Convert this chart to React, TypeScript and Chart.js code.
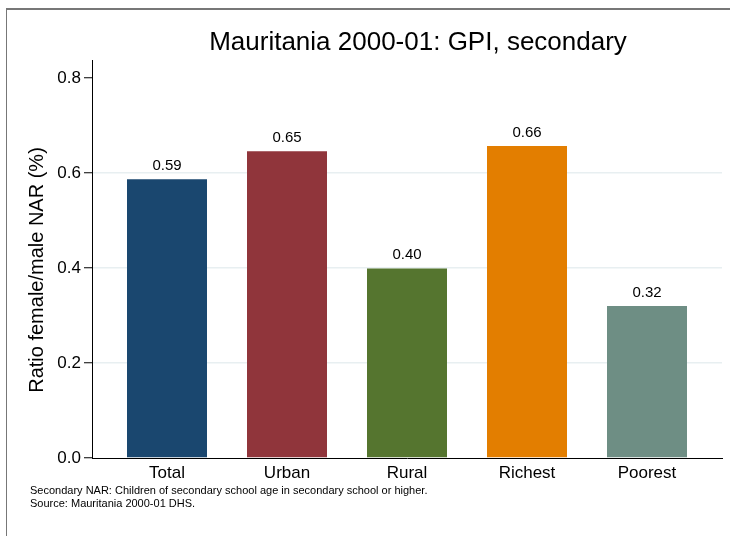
import React, { useEffect, useRef } from "react";
import { Chart, registerables } from "chart.js";

Chart.register(...registerables);

const titleText = "Mauritania 2000-01: GPI, secondary";
const yAxisTitle = "Ratio female/male NAR (%)";
const noteLines = [
  "Secondary NAR: Children of secondary school age in secondary school or higher.",
  "Source: Mauritania 2000-01 DHS.",
];
const categories = ["Total", "Urban", "Rural", "Richest", "Poorest"];
const values = [0.587, 0.646, 0.399, 0.657, 0.32];
const barColors = ["#1a476f", "#90353b", "#55752f", "#e37e00", "#6e8e84"];
const yTicks = [0, 0.2, 0.4, 0.6, 0.8];

const FONT = "'Liberation Sans', Arial, Helvetica, sans-serif";

const textPlugin = {
  id: "textPlugin",
  afterDatasetsDraw(chart: any) {
    const ctx = chart.ctx;
    ctx.save();
    ctx.fillStyle = "#000";
    // value labels
    const meta = chart.getDatasetMeta(0);
    ctx.font = `15px ${FONT}`;
    ctx.textAlign = "center";
    ctx.textBaseline = "alphabetic";
    meta.data.forEach((bar: any, i: number) => {
      ctx.fillText(values[i].toFixed(2), bar.x, bar.y - 9);
    });
    // title
    ctx.font = `26px ${FONT}`;
    ctx.fillText(titleText, 418, 50);
    // y title
    ctx.save();
    ctx.translate(37, 270);
    ctx.rotate(-Math.PI / 2);
    ctx.font = `20px ${FONT}`;
    ctx.textBaseline = "middle";
    ctx.fillText(yAxisTitle, 0, 0);
    ctx.restore();
    // notes
    ctx.font = `11px ${FONT}`;
    ctx.textAlign = "left";
    noteLines.forEach((line, i) => {
      ctx.fillText(line, 30, 494 + i * 13);
    });
    ctx.restore();
  },
};

export default function App() {
  const canvasRef = useRef<HTMLCanvasElement | null>(null);

  useEffect(() => {
    const canvas = canvasRef.current;
    if (!canvas) return;
    const chart = new Chart(canvas, {
      type: "bar",
      data: {
        datasets: [
          {
            data: values.map((v, i) => ({ x: i, y: v })),
            backgroundColor: barColors,
            borderWidth: 0,
            categoryPercentage: 1,
            barPercentage: 2 / 3,
          },
        ],
      },
      plugins: [textPlugin],
      options: {
        animation: false,
        responsive: false,
        devicePixelRatio: 1,
        layout: { padding: { left: 0, right: 8, top: 60, bottom: 0 } },
        plugins: {
          legend: { display: false },
          title: { display: false },
          tooltip: { enabled: false },
        },
        scales: {
          x: {
            type: "linear",
            offset: false,
            min: -0.625,
            max: 4.625,
            afterBuildTicks: (scale: any) => {
              scale.ticks = categories.map((_, i) => ({ value: i }));
            },
            afterFit: (scale: any) => {
              scale.height = 78;
            },
            grid: { display: false, offset: false, drawTicks: false, tickLength: 0 },
            border: { display: true, color: "#000", width: 1 },
            ticks: {
              autoSkip: false,
              maxRotation: 0,
              padding: 5,
              color: "#000",
              font: { family: FONT, size: 17 },
              callback: (v: any) => categories[v] ?? "",
            },
          },
          y: {
            type: "linear",
            min: 0,
            max: 0.838,
            afterBuildTicks: (scale: any) => {
              scale.ticks = yTicks.map((v) => ({ value: v }));
            },
            afterFit: (scale: any) => {
              scale.width = 92;
            },
            grid: {
              color: (c: any) =>
                c.tick && (c.tick.value === 0 || c.tick.value === 0.8)
                  ? "rgba(0,0,0,0)"
                  : "#e8eff1",
              lineWidth: 1.5,
              tickColor: "#000",
              tickLength: 8,
              tickWidth: 1,
            },
            border: { display: true, color: "#000", width: 1 },
            ticks: {
              padding: 3,
              color: "#000",
              font: { family: FONT, size: 17 },
              callback: (v: any) => Number(v).toFixed(1),
            },
          },
        },
      },
    });
    return () => chart.destroy();
  }, []);

  return (
    <div style={{ position: "absolute", left: 0, top: 0, width: 730, height: 536, background: "#fff" }}>
      <div style={{ position: "absolute", left: 6, top: 8, width: 724, height: 2, background: "#777" }} />
      <div style={{ position: "absolute", left: 6, top: 8, width: 1, height: 528, background: "#777" }} />
      <canvas ref={canvasRef} width={730} height={536} style={{ position: "absolute", left: 0, top: 0 }} />
    </div>
  );
}
